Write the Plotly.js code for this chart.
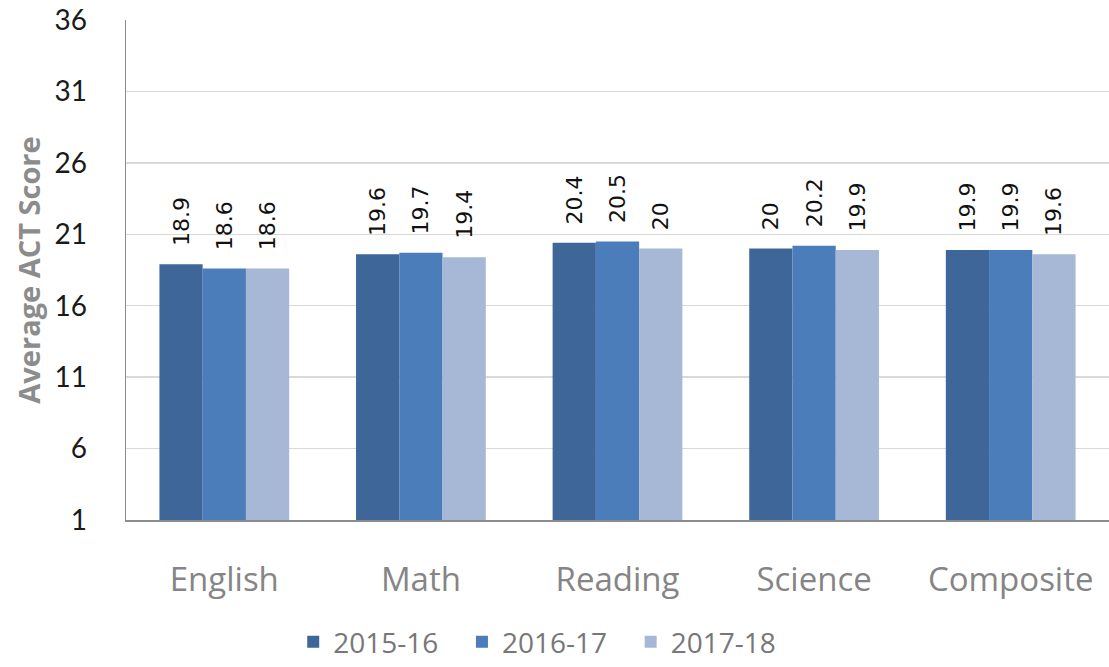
<!DOCTYPE html>
<html>
<head>
<meta charset="utf-8">
<script src="https://cdn.plot.ly/plotly-3.0.1.min.js"></script>
<style>
  html, body { margin: 0; padding: 0; background: #fff; }
  #chart { width: 1109px; height: 667px; }
</style>
</head>
<body>
<div id="chart"></div>
<script>
const subjects = ['English', 'Math', 'Reading', 'Science', 'Composite'];
const years = ['2015-16', '2016-17', '2017-18'];
const scores2015 = [18.9, 19.6, 20.4, 20, 19.9];
const scores2016 = [18.6, 19.7, 20.5, 20.2, 19.9];
const scores2017 = [18.6, 19.4, 20, 19.9, 19.6];
const yTicks = [1, 6, 11, 16, 21, 26, 31, 36];

const colors = ['#3e6699', '#4a7dba', '#a7b8d6'];
const series = [scores2015, scores2016, scores2017];

const traces = series.map((vals, i) => ({
    type: 'bar',
    name: years[i] + '\u2002\u2009',
    x: subjects,
    y: vals,
    marker: { color: colors[i] },
    text: vals.map(v => String(v)),
    texttemplate: '\u2002\u2009%{text}',
    textposition: 'outside',
    textangle: -90,
    constraintext: 'none',
    cliponaxis: false,
    textfont: { family: 'DejaVu Sans, sans-serif', size: 22, color: '#111' },
    hoverinfo: 'none'
}));

const layout = {
    width: 1109,
    height: 667,
    margin: { l: 126, r: 0, t: 20, b: 142 },
    paper_bgcolor: '#fff',
    plot_bgcolor: '#fff',
    barmode: 'group',
    bargap: 0.34,
    bargroupgap: 0,
    showlegend: true,
    legend: {
        orientation: 'h',
        x: 0.428, xanchor: 'center',
        y: -0.245, yanchor: 'middle',
        font: { family: 'Open Sans, sans-serif', size: 28, color: '#777' },
        itemwidth: 30,
        traceorder: 'normal'
    },
    xaxis: {
        showline: true,
        linecolor: '#8c8c8c',
        linewidth: 1.5,
        ticks: '',
        tickfont: { family: 'Open Sans, sans-serif', size: 33, color: '#858585' },
        ticklabelstandoff: 30
    },
    yaxis: {
        range: [1, 36],
        tickvals: yTicks,
        showline: true,
        linecolor: '#8c8c8c',
        linewidth: 1.5,
        gridcolor: '#d9d9d9',
        gridwidth: 1.5,
        zeroline: false,
        ticks: '',
        tickfont: { family: 'Lato, sans-serif', size: 28, color: '#1a1a1a' },
        ticklabelstandoff: 32,
        title: {
            text: 'Average ACT Score',
            font: { family: 'Open Sans, sans-serif', size: 29, color: '#8c8c8c', weight: 'bold' },
            standoff: 5
        }
    },
    font: { family: 'Open Sans, sans-serif' }
};

Plotly.newPlot('chart', traces, layout, { displayModeBar: false, staticPlot: true });
</script>
</body>
</html>
